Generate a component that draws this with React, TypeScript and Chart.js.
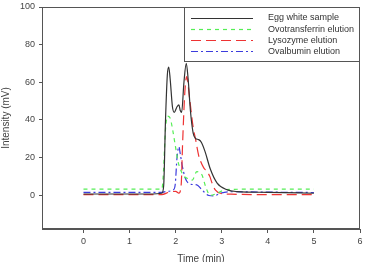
import React, { useEffect, useRef } from "react";
import { Chart, registerables } from "chart.js";

Chart.register(...registerables);

const seriesLabels = ["Egg white sample", "Ovotransferrin elution", "Lysozyme elution", "Ovalbumin elution"];

const eggTime = [0, 0.5, 1.0, 1.5, 1.7, 1.74, 1.78, 1.82, 1.85, 1.88, 1.93, 1.97, 2.03, 2.07, 2.1, 2.13, 2.18, 2.23, 2.27, 2.32, 2.38, 2.43, 2.5, 2.56, 2.64, 2.75, 2.9, 3.12, 3.33, 4.0, 5.0];
const eggValues = [0.6, 0.6, 0.6, 0.6, 1.0, 5, 40, 64, 68, 62, 47, 44, 47, 48, 45, 44, 60, 70, 62, 45, 33, 30.2, 29.5, 28, 23, 14, 6.4, 2.8, 1.9, 1.5, 1.0];

const ovotransferrinTime = [0, 1.0, 1.7, 1.73, 1.78, 1.82, 1.88, 1.94, 1.99, 2.05, 2.1, 2.18, 2.25, 2.36, 2.46, 2.52, 2.57, 2.65, 2.75, 2.9, 3.1, 4.0, 5.0];
const ovotransferrinValues = [3.2, 3.2, 3.2, 10, 35, 42, 41, 34, 26.7, 18, 14, 10, 9, 8, 12.5, 12, 10.8, 4.6, -0.2, 1, 3, 3.2, 3.2];

const lysozymeTime = [0, 1.0, 1.7, 1.85, 2.0, 2.07, 2.12, 2.15, 2.2, 2.24, 2.3, 2.38, 2.43, 2.5, 2.54, 2.61, 2.68, 2.74, 2.79, 2.86, 2.97, 3.2, 4.0, 5.0];
const lysozymeValues = [0.3, 0.3, 0.3, 1.5, 2, 1, 5.5, 27, 55, 63, 52, 36, 30, 21, 18, 14.5, 12.5, 10, 6.4, 2.8, 1, 0.5, 0.3, 0.3];

const ovalbuminTime = [0, 1.0, 1.7, 1.8, 1.95, 1.99, 2.03, 2.07, 2.1, 2.14, 2.21, 2.32, 2.46, 2.57, 2.72, 2.83, 2.97, 3.2, 4.0, 5.0];
const ovalbuminValues = [1.5, 1.5, 1.5, 2, 2.8, 5.5, 20, 25.8, 22, 16, 9, 5.8, 5.5, 2.8, -0.2, -0.4, 1, 1.8, 1.6, 1.4];

const xTicks = [0, 1, 2, 3, 4, 5, 6];
const yTicks = [0, 20, 40, 60, 80, 100];

const colors = ["#333333", "#55ee55", "#ee3333", "#3c3cdd"];
const dashes = [[], [4, 4], [10, 5], [7, 3, 2, 3]];

const toPts = (t: number[], v: number[]) => t.map((x, i) => ({ x, y: v[i] }));

const frameAndLegend = {
  id: "frameAndLegend",
  afterDraw(chart: any) {
    const { ctx, chartArea } = chart;
    ctx.save();
    ctx.strokeStyle = "#555555";
    ctx.lineWidth = 1;
    ctx.strokeRect(chartArea.left + 0.5, chartArea.top + 0.5, chartArea.right - chartArea.left - 1, chartArea.bottom - chartArea.top - 1);
    const bx = 184.5, by = chartArea.top + 0.5, bw = chartArea.right - 0.5 - bx, bh = 54;
    ctx.fillStyle = "#ffffff";
    ctx.fillRect(bx, by, bw, bh);
    ctx.strokeRect(bx, by, bw, bh);
    ctx.font = "9px 'Liberation Sans', Arial, sans-serif";
    ctx.textBaseline = "middle";
    chart.data.datasets.forEach((ds: any, i: number) => {
      const y = by + 10.5 + i * 11.1;
      ctx.strokeStyle = ds.borderColor;
      ctx.lineWidth = 1.2;
      ctx.setLineDash(ds.borderDash || []);
      ctx.beginPath();
      ctx.moveTo(191, Math.round(y) + 0.5);
      ctx.lineTo(253, Math.round(y) + 0.5);
      ctx.stroke();
      ctx.setLineDash([]);
      ctx.fillStyle = "#333333";
      ctx.fillText(ds.label, 268, y);
    });
    ctx.restore();
  },
};

export default function App() {
  const ref = useRef<HTMLCanvasElement>(null);
  useEffect(() => {
    document.body.style.margin = "0";
    const values = [
      toPts(eggTime, eggValues),
      toPts(ovotransferrinTime, ovotransferrinValues),
      toPts(lysozymeTime, lysozymeValues),
      toPts(ovalbuminTime, ovalbuminValues),
    ];
    const chart = new Chart(ref.current!, {
      type: "line",
      data: {
        datasets: values.map((d, i) => ({
          label: seriesLabels[i],
          data: d,
          borderColor: colors[i],
          borderDash: dashes[i],
          borderWidth: 1.2,
          pointRadius: 0,
          fill: false,
          cubicInterpolationMode: "monotone" as const,
        })),
      },
      options: {
        animation: false,
        responsive: false,
        layout: { padding: { top: 7, right: 5, left: 0, bottom: 0 } },
        plugins: { legend: { display: false }, tooltip: { enabled: false } },
        scales: {
          x: {
            type: "linear",
            min: -0.9,
            max: 6,
            afterBuildTicks: (s: any) => { s.ticks = xTicks.map((v) => ({ value: v })); },
            afterFit: (s: any) => { s.height = 33; s.paddingLeft = 0; s.paddingRight = 0; },
            grid: { drawOnChartArea: false, drawTicks: true, tickLength: 4, color: "#555555" },
            border: { display: true, color: "#555555" },
            ticks: { color: "#444444", font: { size: 9, family: "'Liberation Sans', Arial, sans-serif" }, padding: 3, maxRotation: 0 },
            title: { display: true, text: "Time (min)", color: "#444444", font: { size: 10, family: "'Liberation Sans', Arial, sans-serif" }, padding: { top: 0, bottom: -3 } },
          },
          y: {
            type: "linear",
            min: -18,
            max: 100,
            afterBuildTicks: (s: any) => { s.ticks = yTicks.map((v) => ({ value: v })); },
            afterFit: (s: any) => { s.width = 42; s.paddingTop = 0; s.paddingBottom = 0; },
            grid: { drawOnChartArea: false, drawTicks: true, tickLength: 3, color: "#555555" },
            border: { display: true, color: "#555555" },
            ticks: { color: "#444444", font: { size: 9, family: "'Liberation Sans', Arial, sans-serif" }, padding: 4 },
            title: { display: true, text: "Intensity (mV)", color: "#444444", font: { size: 10, family: "'Liberation Sans', Arial, sans-serif" }, padding: { top: 0, bottom: 0 } },
          },
        },
      },
      plugins: [frameAndLegend],
    });
    return () => chart.destroy();
  }, []);
  return (
    <div style={{ width: 365, height: 262 }}>
      <canvas ref={ref} width={365} height={262} style={{ display: "block" }} />
    </div>
  );
}
